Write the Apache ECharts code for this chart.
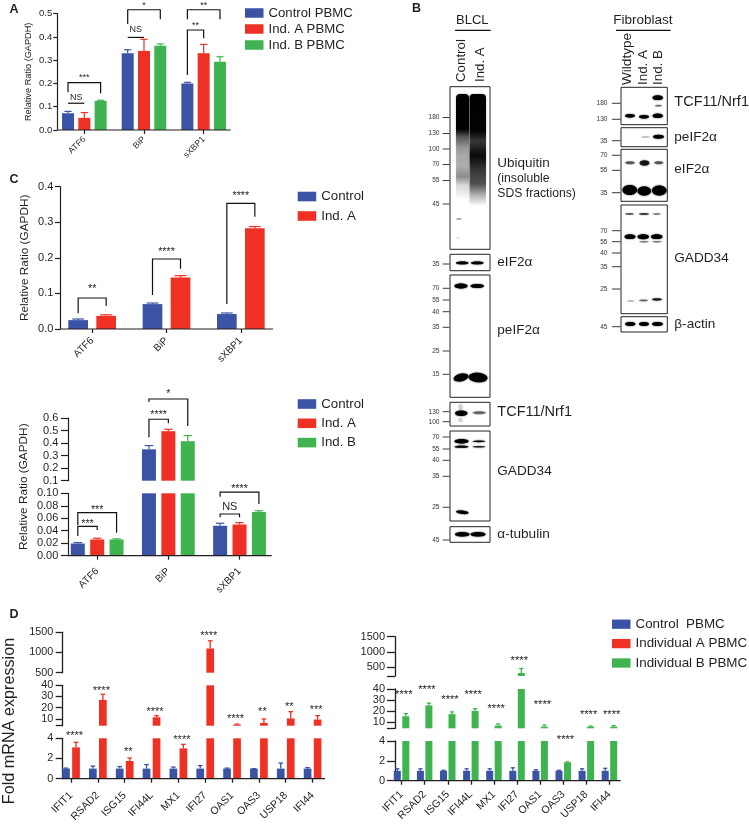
<!DOCTYPE html>
<html><head><meta charset="utf-8">
<style>html,body{margin:0;padding:0;background:#fff}#c{width:749px;height:826px}</style>
<script src="https://cdn.jsdelivr.net/npm/echarts@6/dist/echarts.min.js"></script>
</head><body><div id="c"></div>
<script>
// ---------- data ----------
const genes3 = ['ATF6','BiP','sXBP1'];
const genes10 = ['IFIT1','RSAD2','ISG15','IFI44L','MX1','IFI27','OAS1','OAS3','USP18','IFI44'];

const aControl = [0.072,0.33,0.2],   aControlHi = [0.08,0.345,0.205];
const aIndA    = [0.052,0.34,0.33],  aIndAHi    = [0.075,0.39,0.368];
const aIndB    = [0.125,0.362,0.293],aIndBHi    = [0.128,0.37,0.315];

const c1Control = [0.025,0.07,0.042],  c1ControlHi = [0.028,0.073,0.045];
const c1IndA    = [0.037,0.145,0.283], c1IndAHi    = [0.04,0.15,0.288];

const c2Control = [0.0195,0.35,0.048], c2ControlHi = [0.021,0.38,0.052];
const c2IndA    = [0.026,0.495,0.05],  c2IndAHi    = [0.028,0.51,0.053];
const c2IndB    = [0.026,0.415,0.07],  c2IndBHi    = [0.027,0.46,0.072];

const dlControl = [1,1,1,1,1,1,1,1,1,1];
const dlControlHi = [1.05,1.25,1.2,1.4,1.15,1.3,1.05,1.0,1.55,1.1];
const dlIndA   = [3.1,27,1.75,11.5,3,1100,5,6.5,10.5,9.5];
const dlIndAHi = [3.6,32,2.05,13,3.4,1290,5.4,10,16.5,13];

const drControl = [1,1,1,1,1,1,1,1,1,1];
const drControlHi = [1.2,1.2,1.05,1.2,1.2,1.3,1.1,1.05,1.2,1.25];
const drIndB   = [15,25,17,20,6.5,300,5.5,1.85,5.5,5.5];
const drIndBHi = [17.5,27,19,22,8,450,7,1.9,6,6.5];

// significance marks, in axis values: [segment, cat A, bar A, cat B, bar B, top, end A, end B, text, text value, size]
const aMarks = [
 [0,0,0,0,1,0.115,0.115,0.115,'NS',0.139,9],
 [0,0,0,0,2,0.2035,0.162,0.158,'***',0.236,9],
 [0,1,0,1,1,0.398,0.398,0.398,'NS',0.433,9],
 [0,1,0,1,2,0.517,0.456,0.476,'*',0.545,9],
 [0,2,0,2,2,0.517,0.476,0.476,'**',0.545,9],
 [0,2,0,2,1,0.43,0.236,0.394,'**',0.456,9]
];
const c1Marks = [
 [0,0,0,0,1,0.0871,0.044,0.0646,'**',0.119,10.7],
 [0,1,0,1,1,0.1968,0.0956,0.1695,'****',0.222,10.7],
 [0,2,0,2,1,0.3533,0.0703,0.3157,'****',0.3814,10.7]
];
const c2Marks = [
 [1,0,0,0,1,0.0471,0.0316,0.0412,'***',0.0545,10.7],
 [1,0,0,0,2,0.0689,0.0492,0.0369,'***',0.0769,10.7],
 [0,1,0,1,1,0.59,0.446,0.558,'****',0.642,10.7],
 [0,1,0,1,2,0.7515,0.7276,0.536,'*',0.81,10.7],
 [1,2,0,2,1,0.0668,0.0615,0.0615,'NS',0.0785,11],
 [1,2,0,2,2,0.102,0.0946,0.0829,'****',0.11,10.7]
];
// stars: [segment, category, text, value]
const dlStars = [[2,0,'****',4.5],[1,1,'****',36.7],[2,2,'**',2.9],[1,3,'****',18.6],[2,4,'****',4.1],
 [0,5,'****',1475],[1,6,'****',11.8],[1,7,'**',18.8],[1,8,'**',23],[1,9,'***',20.6]];
const drStars = [[1,0,'****',37],[1,1,'****',41.2],[1,2,'****',32.7],[1,3,'****',37],[1,4,'****',24.1],
 [0,5,'****',788],[1,6,'****',27.8],[2,7,'****',4.37],[1,8,'****',18.9],[1,9,'****',18.9]];

// ---------- style ----------
const FONT = '"Liberation Sans", Arial, sans-serif';
const INK = '#231f20';
const BLUE = '#3a53a4', RED = '#ee3124', GREEN = '#3fb34f';

const option = {
  backgroundColor:'#fff', animation:false,
  grid:[], xAxis:[], yAxis:[], series:[], legend:[], graphic:{elements:[]}
};

function addChart(cfg){
  const n = cfg.bars.length;
  const lastSeg = cfg.segs.length-1;
  cfg.segs.forEach((sg,si)=>{
    const gi = option.grid.length;
    option.grid.push({left:cfg.left,width:cfg.right-cfg.left,top:sg.top,height:sg.bottom-sg.top,containLabel:false});
    const isLast = si===lastSeg;
    option.xAxis.push({
      type:'category',gridIndex:gi,data:cfg.cats,show:isLast,
      axisLine:{show:false},
      axisTick:{show:true,alignWithLabel:true,length:4,lineStyle:{color:INK,width:cfg.lw}},
      axisLabel:{rotate:45,fontSize:cfg.catFont,fontFamily:FONT,color:INK,margin:cfg.catMargin,interval:0,hideOverlap:false}
    });
    const tickVals = sg.ticks, labVals = sg.labels||sg.ticks;
    option.yAxis.push({
      type:'value',gridIndex:gi,min:sg.min,max:sg.max,offset:-(cfg.axisX-cfg.left),
      splitLine:{show:false},
      axisLine:{show:true,onZero:false,lineStyle:{color:INK,width:cfg.lw}},
      axisTick:{show:true,length:cfg.tickLen,customValues:tickVals,lineStyle:{color:INK,width:cfg.lw}},
      axisLabel:{customValues:labVals,showMinLabel:true,showMaxLabel:true,hideOverlap:false,fontSize:cfg.tickFont,fontFamily:FONT,color:INK,margin:cfg.labMargin,
        formatter:v=>sg.digits===undefined?String(v):Number(v).toFixed(sg.digits)},
      name:cfg.name&&sg.nameHere?cfg.name:'',nameLocation:'middle',nameGap:cfg.nameGap,
      nameTextStyle:{fontSize:cfg.nameFont,fontFamily:FONT,color:INK}
    });
    cfg.bars.forEach(b=>{
      option.series.push({type:'bar',name:b.name,xAxisIndex:gi,yAxisIndex:gi,data:b.values,
        barWidth:cfg.barW,barGap:((cfg.pitch-cfg.barW)/cfg.barW*100)+'%',itemStyle:{color:b.color},
        clip:true,silent:true});
    });
    // error whiskers
    const whisk=[];
    cfg.bars.forEach((b,bi)=>b.values.forEach((v,ci)=>{
      if(v>sg.min && v<=sg.max) whisk.push([ci,bi,v,b.highs[ci]]);
    }));
    option.series.push({type:'custom',xAxisIndex:gi,yAxisIndex:gi,silent:true,z:1,
      encode:{x:0,y:2},data:whisk,
      renderItem:(p,api)=>{
        const c=api.value(0),bi=api.value(1);
        const cx=api.coord([c,0])[0]+(bi-(n-1)/2)*cfg.pitch;
        const y0=api.coord([c,api.value(2)])[1],y1=api.coord([c,api.value(3)])[1];
        const col=cfg.bars[bi].color,hw=cfg.barW*0.3;
        const st={stroke:col,lineWidth:cfg.lw,fill:null};
        return {type:'group',children:[
          {type:'line',shape:{x1:cx,y1:y0,x2:cx,y2:y1},style:st},
          {type:'line',shape:{x1:cx-hw,y1:y1,x2:cx+hw,y2:y1},style:st}
        ]};
      }});
    // brackets, stars, baseline
    const marks=(cfg.marks||[]).filter(m=>m[0]===si);
    const stars=(cfg.stars||[]).filter(m=>m[0]===si);
    if(marks.length||stars.length||isLast){
      option.series.push({type:'custom',xAxisIndex:gi,yAxisIndex:gi,silent:true,z:3,clip:false,
        encode:{x:0,y:1},data:[[0,sg.min]],
        renderItem:(p,api)=>{
          const X=(c,s)=>api.coord([c,sg.min])[0]+(s-(n-1)/2)*cfg.pitch;
          const Y=v=>api.coord([0,v])[1];
          const ch=[];
          const txt=(t,x,y,fs)=>ch.push({type:'text',style:{text:t,x:x,y:y+(t[0]==='*'?fs*0.22:0),
            align:'center',verticalAlign:'middle',fontSize:fs,fontFamily:FONT,fill:INK}});
          const ln={stroke:'#111',lineWidth:1.2,fill:null};
          marks.forEach(m=>{
            const xa=X(m[1],m[2]),xb=X(m[3],m[4]);
            ch.push({type:'polyline',shape:{points:[[xa,Y(m[6])],[xa,Y(m[5])],[xb,Y(m[5])],[xb,Y(m[7])]]},style:ln});
            txt(m[8],(xa+xb)/2,Y(m[9]),m[10]);
          });
          stars.forEach(m=>txt(m[2],X(m[1],cfg.starBar)+cfg.starDx,Y(m[3]),cfg.starFont));
          if(isLast){
            const y=Y(sg.min);
            ch.push({type:'line',shape:{x1:cfg.axisX,y1:y,x2:cfg.axisR,y2:y},style:{stroke:INK,lineWidth:cfg.lw}});
          }
          return {type:'group',children:ch};
        }});
    }
  });
}

// ---------- panel A ----------
addChart({left:54.5,right:233.5,axisX:57.3,axisR:230.7,cats:genes3,barW:12,pitch:16.3,lw:1.2,
  tickFont:9.6,catFont:8.6,catMargin:8,tickLen:4,labMargin:5,name:'Relative Ratio (GAPDH)',nameGap:24.5,nameFont:9.2,
  segs:[{top:13.7,bottom:130,min:0,max:0.5,ticks:[0,0.1,0.2,0.3,0.4,0.5],digits:1,nameHere:true}],
  bars:[{name:'Control PBMC',color:BLUE,values:aControl,highs:aControlHi},
        {name:'Ind. A PBMC',color:RED,values:aIndA,highs:aIndAHi},
        {name:'Ind. B PBMC',color:GREEN,values:aIndB,highs:aIndBHi}],
  marks:aMarks});

// ---------- panel C top ----------
addChart({left:55,right:278,axisX:60,axisR:273,cats:genes3,barW:19.7,pitch:28,lw:1.2,
  tickFont:11,catFont:10,catMargin:10,tickLen:5,labMargin:6.7,name:'Relative Ratio (GAPDH)',nameGap:29,nameFont:11.8,
  segs:[{top:186.7,bottom:329,min:0,max:0.4,ticks:[0,0.1,0.2,0.3,0.4],digits:1,nameHere:true}],
  bars:[{name:'Control',color:BLUE,values:c1Control,highs:c1ControlHi},
        {name:'Ind. A',color:RED,values:c1IndA,highs:c1IndAHi}],
  marks:c1Marks});

// ---------- panel C bottom ----------
addChart({left:61.6,right:275.1,axisX:68,axisR:271.7,cats:genes3,barW:14,pitch:19.4,lw:1.2,
  tickFont:11,catFont:10,catMargin:14,tickLen:7,labMargin:9.7,
  segs:[{top:418,bottom:480.7,min:0.1,max:0.6,ticks:[0.1,0.2,0.3,0.4,0.5,0.6],digits:1},
        {top:493.3,bottom:555.7,min:0,max:0.1,ticks:[0,0.02,0.04,0.06,0.08,0.1],digits:2}],
  bars:[{name:'Control',color:BLUE,values:c2Control,highs:c2ControlHi},
        {name:'Ind. A',color:RED,values:c2IndA,highs:c2IndAHi},
        {name:'Ind. B',color:GREEN,values:c2IndB,highs:c2IndBHi}],
  marks:c2Marks});

// ---------- panel D left ----------
addChart({left:57.6,right:326,axisX:62.7,axisR:325,cats:genes10,barW:7.7,pitch:10,lw:1.3,
  tickFont:10.8,catFont:10.6,catMargin:15,tickLen:7,labMargin:9.4,
  segs:[{top:632.3,bottom:672.7,min:500,max:1500,ticks:[500,1000,1500]},
        {top:685.3,bottom:725.7,min:4,max:40,ticks:[4,10,20,30,40],labels:[10,20,30,40]},
        {top:738.3,bottom:778.7,min:0,max:4,ticks:[0,1,2,3,4]}],
  bars:[{name:'Control  PBMC',color:BLUE,values:dlControl,highs:dlControlHi},
        {name:'Individual A PBMC',color:RED,values:dlIndA,highs:dlIndAHi}],
  stars:dlStars,starBar:1,starDx:-1.5,starFont:11});

// ---------- panel D right ----------
addChart({left:390,right:621,axisX:395,axisR:620.7,cats:genes10,barW:7,pitch:8.5,lw:1.3,
  tickFont:11,catFont:10.6,catMargin:12,tickLen:8,labMargin:10,
  segs:[{top:636.7,bottom:676,min:200,max:1500,ticks:[200,500,1000,1500],labels:[500,1000,1500]},
        {top:689,bottom:728.3,min:4,max:40,ticks:[4,10,20,30,40],labels:[10,20,30,40]},
        {top:741,bottom:780.7,min:0,max:4,ticks:[0,1,2,3,4]}],
  bars:[{name:'Control  PBMC',color:BLUE,values:drControl,highs:drControlHi},
        {name:'Individual B PBMC',color:GREEN,values:drIndB,highs:drIndBHi}],
  stars:drStars,starBar:1,starDx:-2,starFont:11.2});

// ---------- legends ----------
function addLegend(names,left,top,w,h,fs,gap){
  option.legend.push({show:true,orient:'vertical',left:left,top:top,padding:0,itemWidth:w,itemHeight:h,itemGap:gap,
    selectedMode:false,icon:'rect',data:names,textStyle:{fontSize:fs,fontFamily:FONT,color:INK,padding:[0,0,0,0]}});
}
addLegend(['Control PBMC','Ind. A PBMC','Ind. B PBMC'],245,6.5,18.5,9.5,13.2,3);
addLegend(['Control','Ind. A'],297.7,190,18.5,9.6,13.3,6.5);
addLegend(['Control','Ind. A','Ind. B'],297.7,397.5,18.5,9.6,13.3,6.3);
addLegend(['Control  PBMC','Individual A PBMC','Individual B PBMC'],612,617.7,18.5,9.3,13.4,6.4);

// ---------- free text ----------
const G = option.graphic.elements;
function text(t,x,y,fs,opt){
  opt=opt||{};
  G.push({type:'text',x:x,y:y,rotation:opt.rot||0,silent:true,style:{text:t,fontSize:fs,fontFamily:FONT,
    fontWeight:opt.bold?'bold':'normal',fill:opt.fill||INK,align:opt.align||'left',verticalAlign:'middle'}});
}
text('A',9.5,9.5,12.5,{bold:true});
text('C',9.5,179.5,12.5,{bold:true});
text('D',9.5,614.5,12.5,{bold:true});
text('B',412,9,12.5,{bold:true});
text('Relative Ratio (GAPDH)',24,486.7,11.8,{rot:Math.PI/2,align:'center'});
text('Fold mRNA expression',10,721,16.2,{rot:Math.PI/2,align:'center'});

// ---------- blots ----------
function line(x1,y1,x2,y2,w,c){G.push({type:'line',silent:true,shape:{x1,y1,x2,y2},style:{stroke:c||'#111',lineWidth:w}});}
function box(x1,y1,x2,y2){G.push({type:'rect',silent:true,shape:{x:x1,y:y1,width:x2-x1,height:y2-y1},style:{fill:'#fff',stroke:'#222',lineWidth:1}});}
function band(x1,x2,cy,h,a,tilt){
  G.push({type:'ellipse',silent:true,x:(x1+x2)/2,y:cy,rotation:tilt||0,
    shape:{cx:0,cy:0,rx:(x2-x1)/2,ry:h/2},
    style:{fill:`rgba(0,0,0,${a})`,shadowBlur:1.6,shadowColor:`rgba(0,0,0,${a})`}});
}
function smear(x1,x2,y1,y2,stops){
  G.push({type:'rect',silent:true,shape:{x:x1,y:y1,width:x2-x1,height:y2-y1,r:4},
    style:{fill:{type:'linear',x:0,y:0,x2:0,y2:1,colorStops:stops.map(s=>({offset:s[0],color:`rgba(0,0,0,${s[1]})`}))},
    shadowBlur:2.5,shadowColor:'rgba(0,0,0,0.3)'}});
}
function mw(list,xRight,tx1,tx2){
  list.forEach(m=>{text(m[0],xRight,m[1],6.6,{align:'right',fill:'#333'});line(tx1,m[1],tx2,m[1],0.9,'#222');});
}
function rot(t,x,yb,fs){text(t,x,yb,fs,{rot:Math.PI/2});}

// BLCL
text('BLCL',456,20,13);
line(455,30.3,490.7,30.3,1.2);
rot('Control',461.7,82,13.3); rot('Ind. A',480,82,13.3);
const LX1=439.5,LT1=442.7,LT2=449.5;
box(450,86.7,490,249.3);
smear(456,469,94,200,[[0,1],[0.33,1],[0.4,0.6],[0.5,0.35],[0.58,0.28],[0.68,0.26],[0.78,0.38],[0.86,0.12],[1,0]]);
smear(469.5,486,94,206,[[0,1],[0.33,0.98],[0.42,0.72],[0.55,0.95],[0.68,0.72],[0.8,0.62],[0.9,0.25],[1,0]]);
band(456,462,219,1.5,0.35); band(456,460,238,1,0.2);
mw([['180',117.5],['130',133.5],['100',149],['70',164.5],['55',180.5],['45',204]],LX1,LT1,LT2);
text('Ubiquitin',497.3,163.3,13.5); text('(insoluble',497.3,178.5,12.2); text('SDS fractions)',497.3,193.5,12.2);

box(450,254.3,490,270.7);
band(456,468.5,263,2.8,1); band(471,483.5,263,2.8,1);
mw([['35',264]],LX1,LT1,LT2); text('eIF2α',497.3,262.5,13.6);

box(450,275,490,397.3);
band(454.5,467.5,286,5,1); band(470.5,484,286,4,1);
band(453.5,468.5,377.5,7.5,1,0.25); band(468.5,487.5,377.5,9.5,1,-0.08);
mw([['70',288.3],['55',300],['40',311.7],['35',327.3],['25',351],['15',374.3]],LX1,LT1,LT2);
text('peIF2α',497.3,330.7,13.6);

box(450,402.3,490,426);
band(458,463,407,6,0.15); band(458,463,420,5,0.15);
band(455,467.5,413.3,5.5,0.95); band(472.5,486,412.8,3,0.5);
mw([['130',411.7],['100',421.7]],LX1,LT1,LT2); text('TCF11/Nrf1',497.3,412.3,14.5);

box(450,431,490,521);
band(454.5,468.5,441.3,4.5,1); band(454.5,468.5,446.7,2.6,0.85);
band(472.5,485.5,441.3,1.8,0.9); band(472.5,485.5,446.8,1.6,0.8);
band(456,468.5,512.3,3.4,1,-0.12);
mw([['70',437],['55',449],['40',460.3],['35',476.3],['25',507.3]],LX1,LT1,LT2);
text('GADD34',497.3,471,13.6);

box(450,526.7,490,542.3);
band(455,469.5,534.2,4.6,1); band(470.5,485.5,534.2,4.6,1);
mw([['45',540]],LX1,LT1,LT2); text('α-tubulin',497.3,534.3,13.6);

// Fibroblast
text('Fibroblast',613.3,20,13.5);
line(616,30.3,670.7,30.3,1.2);
rot('Wildtype',627.7,85,13.6); rot('Ind. A',643.3,85,13.4); rot('Ind. B',658.3,85,13.4);
const FL=607.5,FT1=612,FT2=620.5,FR=667.3,FX=621,FT=674.3;
box(FX,87.3,FR,124.7);
band(625,635,115.7,3.6,1); band(639,649,116.7,3.6,1); band(652.5,663,115.7,4.6,1);
band(652.5,663,97.7,4.8,1); band(655,662,105.7,2,0.45);
mw([['180',103.3],['130',119.3]],FL,FT1,FT2); text('TCF11/Nrf1',FT,101.7,14.5);

box(FX,127.7,FR,146.7);
band(653,664,136.7,4,1); band(641,650,136.9,2,0.2);
mw([['35',140.7]],FL,FT1,FT2); text('peIF2α',FT,137.3,13.6);

box(FX,149.3,FR,201.3);
band(625,635,162.7,3,0.55); band(639.5,649.5,163,5.4,0.8); band(654,663.5,162.7,3,0.55);
band(622.5,637,190,10,1); band(637.5,651,191,9,1); band(652,666.5,190.5,10,1);
mw([['70',155.3],['55',170.3],['35',192.7]],FL,FT1,FT2); text('eIF2α',FT,169.3,13.6);

box(FX,205,FR,313.7);
band(625,634,214,1.8,0.55); band(639,649,214,2,0.65); band(652.5,661,214,1.6,0.5);
band(624.5,635.5,236.7,4.8,1); band(637.5,649,236.7,5,1); band(651,662.5,236.7,4.8,1);
band(639,649,241.7,1.6,0.45); band(652,662,241.7,1.6,0.45);
band(627,634.5,301,1.2,0.4); band(639,648,300.5,1.8,0.5); band(652,662,299.5,2.4,0.8);
mw([['70',230.7],['55',241.7],['40',253],['35',266.7],['25',289]],FL,FT1,FT2);
text('GADD34',FT,258.3,13.6);

box(FX,316.7,FR,332);
band(625,635.5,324,4,1); band(639,649,324,4,1); band(652,663,324,4,1);
mw([['45',326.7]],FL,FT1,FT2); text('β-actin',FT,324,13.6);

echarts.init(document.getElementById('c'),null,{renderer:'canvas'}).setOption(option);
</script></body></html>
